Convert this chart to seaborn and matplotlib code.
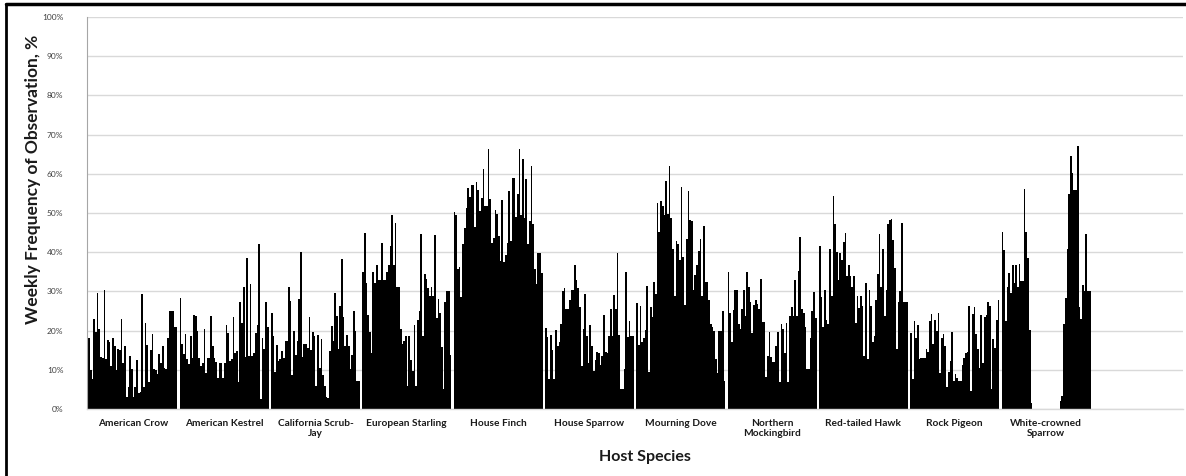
"""
Weekly frequency of observation by host species
"""
#------------------------------------------------------------------------------
# Libraries
#------------------------------------------------------------------------------

import pandas as pd
import seaborn as sns
import matplotlib.pyplot as plt
from matplotlib.lines import Line2D
from matplotlib.ticker import FuncFormatter

#------------------------------------------------------------------------------
# Data (weekly % per host species)
#------------------------------------------------------------------------------

species = ['American Crow', 'American Kestrel', 'California Scrub-Jay',
           'European Starling', 'House Finch', 'House Sparrow',
           'Mourning Dove', 'Northern Mockingbird', 'Red-tailed Hawk',
           'Rock Pigeon', 'White-crowned Sparrow']

tick_labels = ['American Crow', 'American Kestrel', 'California Scrub-\nJay',
               'European Starling', 'House Finch', 'House Sparrow',
               'Mourning Dove', 'Northern\nMockingbird', 'Red-tailed Hawk',
               'Rock Pigeon', 'White-crowned\nSparrow', '']

crow = [18.1, 10, 7.6, 23, 19.6, 29.7, 20.3, 13.2, 13, 30.3, 12.8, 17.5, 17.2,
        11, 18.1, 16, 10, 15.2, 15, 23, 11.8, 16, 3, 5.5, 13.5, 10.3, 3, 5.5,
        12.5, 4.2, 4.4, 29.4, 5.7, 22, 16.2, 6.8, 15, 19.2, 10.3, 10, 8.9, 14,
        11.8, 16, 10.5, 10.3, 18.1, 25, 25, 25, 21, 21]

kestrel = [28.4, 16.5, 14, 19.2, 12.7, 11.4, 18.6, 13, 24, 23.6, 19.8, 13, 11,
           11.8, 20.3, 9.3, 13, 13, 23.6, 16, 13, 12, 7.8, 11.8, 11.8, 7.8,
           11.8, 21.5, 19.4, 12.2, 12.7, 23.4, 14.3, 14.8, 6.9, 27.4, 22, 31,
           13.2, 38.4, 13.5, 32, 13.5, 14.3, 19.4, 21.5, 42.2, 2.5, 18.1, 15.2,
           27.4, 21]

scrub_jay = [24.6, 18.6, 9.5, 16.2, 12.2, 12.7, 14.8, 12.9, 17.3, 17.3, 31,
             27.6, 8.6, 20, 13.7, 17.3, 28.1, 40, 13.2, 16.7, 16.5, 15.6, 23.4,
             15, 19.6, 18.6, 5.9, 19, 10.5, 17.9, 8.6, 5.9, 3, 2.7, 14.8, 21.1,
             17.3, 29.5, 23.8, 15.2, 26.2, 38.3, 23.4, 16, 19, 16, 10.3, 13.7,
             25.1, 20, 7.2, 7.2]

starling = [35, 45, 32.2, 24, 19.6, 14.2, 35, 32.2, 36.7, 32.9, 32.9, 42.4,
            32.9, 32.9, 34.9, 36.7, 41.5, 49.4, 36.7, 47.5, 31.2, 31.2, 20.4,
            16.5, 17.3, 18.6, 5.9, 18.6, 12.5, 9.7, 21.5, 5.9, 22.8, 24.9, 44.6,
            18.7, 34.4, 33.2, 30.8, 28.7, 31, 28.9, 44.3, 23.2, 28, 24.5, 15.8,
            5, 27.4, 30, 30, 13.7]

house_finch = [50.3, 49.4, 35.7, 36.1, 28.6, 42, 46.2, 51.3, 56.3, 54.2, 57.1,
               57.1, 46.4, 58, 55.9, 50.4, 53.8, 61.3, 51.7, 51.7, 66.4, 53.6,
               42.3, 43.7, 50.8, 49.7, 44.1, 37.8, 53.4, 37.4, 39.3, 42.4, 55.6,
               42.9, 59, 59, 48.9, 54.8, 66.4, 49.6, 63.9, 48.7, 58.7, 42, 47.9,
               61.9, 47.1, 35.7, 31.9, 39.7, 39.7, 34.6]

house_sparrow = [20.6, 18.3, 7.6, 18.9, 15, 7.7, 20.2, 16.1, 17.2, 21.7, 30,
                 30.8, 25.4, 25.4, 27.9, 30.3, 30.3, 36.8, 32.9, 30.8, 26.1,
                 10.9, 20.3, 29.4, 18.5, 11.8, 21.3, 16, 9.8, 12.6, 14.5, 14.3,
                 11.3, 13.6, 23.9, 14.5, 14.3, 18.5, 25.4, 18.5, 29.2, 25.4,
                 39.7, 18.9, 5.2, 5.2, 10.1, 34.9, 18.3, 22.5, 18.5, 18.5]

mourning_dove = [27.1, 16.2, 26.3, 17, 18.1, 20.2, 31.3, 9.5, 25.9, 23.5, 32.4,
                 29.4, 52.5, 45.2, 53.1, 51.7, 49.6, 58.2, 49.7, 61.9, 48.6,
                 40.9, 28.7, 42.9, 42, 38, 56.6, 38.8, 26.5, 43.3, 55.6, 48.3,
                 47.9, 30.3, 34.3, 36.8, 40.3, 43.3, 28.8, 46.8, 32.4, 32.4,
                 27.9, 21.7, 21, 20, 12.8, 9.1, 20, 20, 25, 7.1]

mockingbird = [35, 24.4, 17, 25.2, 30.3, 30.3, 21.7, 20.3, 25.6, 30.3, 23.7,
               34.9, 31.1, 27.3, 19.5, 26.6, 27.7, 26.9, 25.4, 33.2, 22.3, 22.3,
               8.2, 13.6, 19.7, 13.3, 11.9, 11.9, 16.1, 19.6, 6.9, 21.7, 20.3,
               14.3, 22, 6.9, 23.8, 25.9, 23.7, 32.9, 23.7, 35.1, 43.9, 25.5,
               24.4, 20.8, 10.3, 10.3, 18.1, 25, 29.8, 23.1]

red_tailed_hawk = [41.5, 28.5, 20.8, 30.4, 22.8, 21.8, 40.8, 28.9, 54.3, 47.3,
                   40.1, 32.9, 39.9, 38, 42.6, 44.9, 33.8, 36.7, 33.8, 31.1,
                   33.8, 21.9, 28.7, 25.7, 28.9, 26.3, 13.5, 32.1, 12.7, 30.4,
                   26.3, 17, 18.6, 27.8, 34.4, 44.6, 31, 40.9, 23.8, 30.4, 47.1,
                   48.1, 48.4, 43, 36, 15.2, 27.4, 30.1, 47.4, 27.4, 27.4, 27.4]

rock_pigeon = [19.4, 7.6, 22.4, 18.1, 21.3, 12.7, 12.9, 12.9, 12.9, 15.2, 14.5,
               22.5, 24.2, 16.5, 22.8, 20, 24.5, 9.3, 18.1, 19.2, 16, 5.5, 9.5,
               12.2, 19.6, 7.2, 8.9, 8, 7.2, 7.2, 11.1, 12.9, 14.3, 14.5, 26.2,
               4.6, 24.3, 26, 19.2, 15.2, 10.5, 24, 11.8, 23.5, 24, 27.2, 26.3,
               5.1, 17.9, 15.6, 22.8, 27.8]

white_crowned = [45.1, 40.6, 22.5, 31.1, 34.7, 29.6, 36.7, 32.1, 36.7, 31.1,
                 37.1, 32.6, 32.6, 56, 45.1, 38.5, 20.2, 1.5,
                 0, 0, 0, 0, 0, 0, 0, 0, 0, 0, 0, 0, 0, 0, 0, 0,
                 2.1, 3.4, 21.8, 28.3, 40.8, 54.8, 64.5, 60.3, 55.9, 55.9, 67.2,
                 26.1, 22.9, 31.7, 30.1, 44.7, 30.1, 30.1]

weekly = [crow, kestrel, scrub_jay, starling, house_finch, house_sparrow,
          mourning_dove, mockingbird, red_tailed_hawk, rock_pigeon,
          white_crowned]

#------------------------------------------------------------------------------
# Long table for seaborn
#------------------------------------------------------------------------------

rows = []
for name, vals in zip(species, weekly):
    for w, v in enumerate(vals):
        rows.append((name, f'W{w + 1:02d}', v))
df = pd.DataFrame(rows, columns=['species', 'week', 'freq'])
n_weeks = df['week'].nunique()

#------------------------------------------------------------------------------
# Plot
#------------------------------------------------------------------------------

sns.set_style('white')
plt.rcParams['font.family'] = ['Lato', 'DejaVu Sans']

fig, ax = plt.subplots(figsize=(11.86, 4.76), dpi=100)
fig.subplots_adjust(left=0.0734, right=0.9975, top=0.9643, bottom=0.1408)

sns.barplot(data=df, x='species', y='freq', hue='week',
            order=species + [''], palette=['black'] * n_weeks,
            width=0.975, gap=0, saturation=1, linewidth=0,
            errorbar=None, legend=False, ax=ax)

ax.set_ylim(0, 100)
ax.set_yticks(range(0, 101, 10))
ax.yaxis.set_major_formatter(FuncFormatter(lambda v, _: f'{v:.0f}%'))
ax.yaxis.grid(True, color='#d9d9d9', linewidth=1)
ax.set_axisbelow(True)

ax.set_xticks(range(len(tick_labels)))
ax.set_xticklabels(tick_labels, fontsize=7.3, fontweight='bold',
                   color='#1a1a1a', linespacing=1.15)
ax.tick_params(axis='y', labelsize=6, labelcolor='#404040', length=0, pad=17)
ax.tick_params(axis='x', length=0, pad=7)

for side in ['top', 'right']:
    ax.spines[side].set_visible(False)
ax.spines['left'].set_color('#a6a6a6')
ax.spines['left'].set_linewidth(0.8)
ax.spines['bottom'].set_color('#d9d9d9')
ax.spines['bottom'].set_linewidth(1)

ax.set_ylabel('Weekly Frequency of Observation, %', fontsize=12.5,
              fontweight='bold', color='#1a1a1a')
ax.yaxis.set_label_coords(-0.042, 0.587)
ax.set_xlabel('Host Species', fontsize=11.5, fontweight='bold',
              color='#1a1a1a')
ax.xaxis.set_label_coords(0.509, -0.105)

# outer frame (left and top edges only, as in the source image)
fig.add_artist(Line2D([6 / 1186, 6 / 1186], [0, 1 - 4 / 476],
                      transform=fig.transFigure, color='black', lw=2))
fig.add_artist(Line2D([6 / 1186, 1], [1 - 4 / 476, 1 - 4 / 476],
                      transform=fig.transFigure, color='black', lw=2.5))

fig.savefig('out.png', dpi=100)
